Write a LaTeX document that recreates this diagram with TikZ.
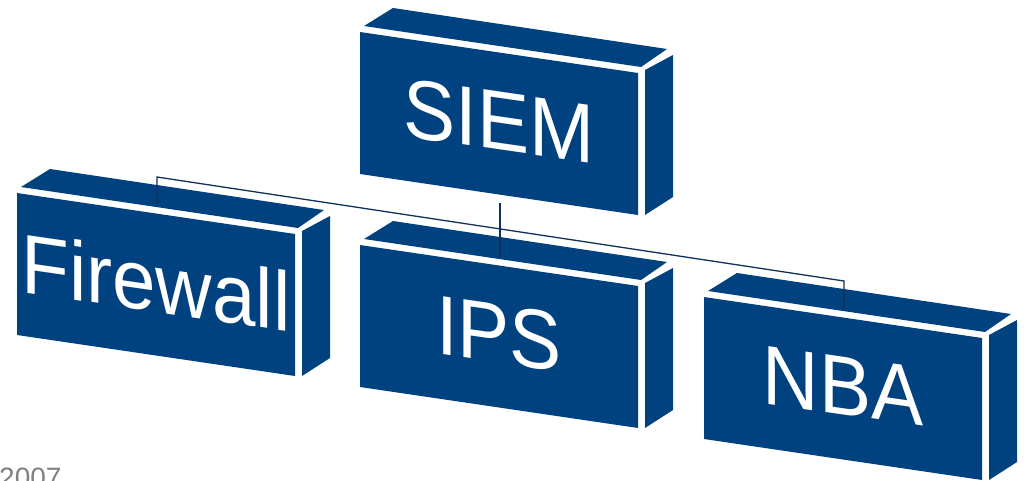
\documentclass[tikz,border=0pt]{standalone}
\usepackage{fontspec}
\setmainfont{Liberation Sans}
\definecolor{boxblue}{RGB}{0,65,128}
\definecolor{wirecol}{RGB}{18,48,92}
\definecolor{notegray}{RGB}{128,128,128}
\tikzset{
  face/.style={fill=boxblue, draw=none},
  boxlabel/.style={text=white, inner sep=0pt,
    font=\fontsize{84}{90}\selectfont, yslant=-0.145, xscale=0.93},
  wire/.style={draw=wirecol, line width=1.3pt, line join=miter},
}
% a slanted 3D block: front face, top face and right side, separated by thin gaps
\newcommand\blockbox[4]{%
  \begin{scope}[shift={(#2,#3)}]
    \fill[face] (0,0) -- (278,41) -- (278,183) -- (0,142) -- cycle;
    \fill[face] (4,-6) -- (33,-24) -- (307,17) -- (281,35) -- cycle;
    \fill[face] (285,38) -- (313,23) -- (313,165) -- (285,183) -- cycle;
    \node[boxlabel] (#1) at (139,89) {#4};
    \coordinate (#1-top) at (140,12);
    \coordinate (#1-bot) at (140,171);
  \end{scope}}
\begin{document}
\begin{tikzpicture}[x=1pt,y=-1pt]
  \useasboundingbox (0,0) rectangle (1025,480);
  \clip (0,0) rectangle (1025,480);

  \blockbox{siem}{360}{32}{SIEM}
  \blockbox{fw}{17}{193}{Firewall}
  \blockbox{ips}{360}{245}{IPS}
  \blockbox{nba}{704}{297}{NBA}

  % connectors
  \coordinate (busL) at (157,177);
  \coordinate (busR) at (844,281);
  \draw[wire] (fw-top) -- (busL) -- (busR) -- (nba-top);
  \draw[wire] (siem-bot) -- (ips-top);

  \node[anchor=base west, text=notegray, inner sep=0pt,
        font=\fontsize{28}{30}\selectfont] (year) at (-1,487) {2007};
\end{tikzpicture}
\end{document}
